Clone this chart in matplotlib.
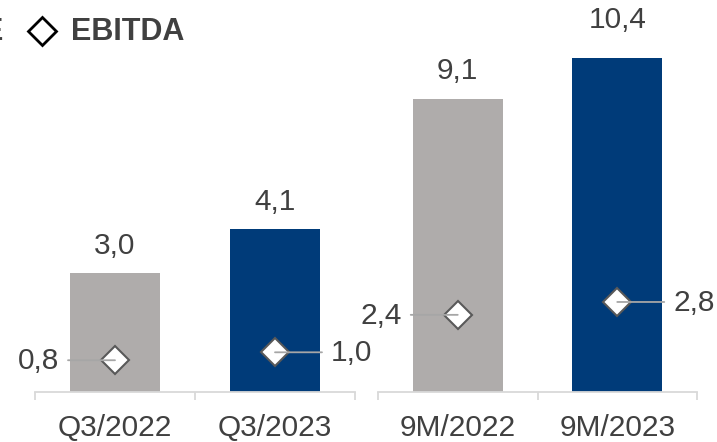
import matplotlib
matplotlib.use("Agg")
import matplotlib.pyplot as plt
from matplotlib.lines import Line2D

# data
q3_labels = ['Q3/2022', 'Q3/2023']
q3_revenue = [3.0, 4.1]
q3_ebitda = [0.8, 1.0]

m9_labels = ['9M/2022', '9M/2023']
m9_revenue = [9.1, 10.4]
m9_ebitda = [2.4, 2.8]

bar_colors = ['#AFACAB', '#003B79']
txt = '#404040'
fs = 21.5
plt.rcParams['font.family'] = ['Liberation Sans', 'DejaVu Sans']


def fmt(v):
    return f'{v:.1f}'.replace('.', ',')


def panel(ax, labels, revenue, ebitda, ymax, top_offsets, sides):
    x = range(len(labels))
    ax.bar(x, revenue, width=0.5625, color=bar_colors, zorder=2)
    ax.set_xlim(-0.5, len(labels) - 0.5)
    ax.set_ylim(0, ymax)
    for s in ['top', 'left', 'right']:
        ax.spines[s].set_visible(False)
    ax.spines['bottom'].set_color('#D9D9D9')
    ax.spines['bottom'].set_linewidth(1.3)
    ax.set_yticks([])
    ax.set_xticks([-0.5, 0.5, 1.5])
    ax.set_xticklabels([])
    ax.tick_params(axis='x', which='major', length=6, width=1.3, color='#D9D9D9')
    ax.set_xticks(list(x), minor=True)
    ax.set_xticklabels(labels, minor=True, fontsize=fs, color=txt)
    ax.tick_params(axis='x', which='minor', length=0, pad=16)

    for i, v in enumerate(revenue):
        ax.annotate(fmt(v), xy=(i, v), xytext=(0, top_offsets[i]),
                    textcoords='offset pixels', ha='center', va='center',
                    fontsize=fs, color=txt)

    for i, v in enumerate(ebitda):
        sign = -1 if sides[i] == 'left' else 1
        ax.plot([i], [v], marker='D', ms=14.5, mfc='white', mec='#595959',
                mew=1.5, zorder=3)
        ax.annotate('', xy=(i, v), xytext=(sign * 47, 0), textcoords='offset pixels',
                    arrowprops=dict(arrowstyle='-', color='#A6A6A6', lw=1.3,
                                    shrinkA=0, shrinkB=0), zorder=4)
        ax.annotate(fmt(v), xy=(i, v), xytext=(sign * 56, -1),
                    textcoords='offset pixels',
                    ha='right' if sign < 0 else 'left', va='center',
                    fontsize=fs, color=txt)


fig = plt.figure(figsize=(7.17, 4.42), dpi=100)
ax1 = fig.add_axes([35 / 717, 50 / 442, 320 / 717, 392 / 442])
ax2 = fig.add_axes([378 / 717, 50 / 442, 319 / 717, 392 / 442])

panel(ax1, q3_labels, q3_revenue, q3_ebitda, 392 / 39.7, [27, 27], ['left', 'right'])
panel(ax2, m9_labels, m9_revenue, m9_ebitda, 392 / 32.15, [28, 38], ['left', 'right'])

# legend
fig.add_artist(Line2D([42 / 717], [1 - 31 / 442], marker='D', ms=14.5,
                      mfc='white', mec='black', mew=2, transform=fig.transFigure))
fig.text(71 / 717, 1 - 32 / 442, 'EBITDA', fontsize=22, fontweight='bold',
         color=txt, va='center', ha='left')
fig.text(3 / 717, 1 - 32 / 442, 'E', fontsize=22, fontweight='bold',
         color=txt, va='center', ha='right')

fig.savefig('out.png', dpi=100)
